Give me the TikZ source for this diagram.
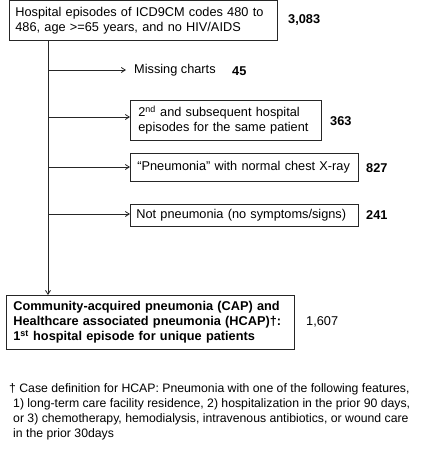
\documentclass[tikz,border=0pt]{standalone}
\usepackage{fontspec}
\setmainfont{Liberation Sans}
\usetikzlibrary{arrows.meta}
\begin{document}
\begin{tikzpicture}[x=1pt,y=-1pt,
  every node/.style={font=\fontsize{12.75}{15}\selectfont, text=black},
  box/.style={draw=black!85, line width=0.8pt, align=left, inner xsep=7pt, inner ysep=0pt, anchor=north west},
  num/.style={font=\fontsize{12.75}{15}\selectfont\bfseries, anchor=west, inner sep=0pt},
  lbl/.style={anchor=west, inner sep=0pt},
  arr/.style={draw=black!85, line width=0.8pt, -{Straight Barb[length=4pt,width=5pt]}}]
\useasboundingbox (0,0) rectangle (427,451);
% top box
\node[box, minimum width=268pt, minimum height=40pt, text width=256pt, inner xsep=6pt] (top) at (9,0)
  {Hospital episodes of ICD9CM codes 480 to\\486, age >=65 years, and no HIV/AIDS};
\node[num] (n1) at (288,20) {3,083};
% missing charts
\node[lbl] (mc) at (134,70) {Missing charts};
\node[num] (n2) at (232,71) {45};
% box 2
\node[box, minimum width=191pt, minimum height=40pt, text width=179pt, inner xsep=6pt] (b2) at (130,100)
  {\hspace*{2pt}2\textsuperscript{nd} and subsequent hospital\\\hspace*{2pt}episodes for the same patient};
\node[num] (n3) at (330,121) {363};
% box 3
\node[box, minimum width=228pt, minimum height=28pt, text width=220pt, inner xsep=4pt] (b3) at (130,153)
  {\hspace*{3pt}“Pneumonia" with normal chest X-ray};
\node[num] (n4) at (366,168) {827};
% box 4
\node[box, minimum width=228pt, minimum height=22pt, text width=220pt, inner xsep=4pt] (b4) at (130,204)
  {\hspace*{2pt}Not pneumonia (no symptoms/signs)};
\node[num] (n5) at (366,215) {241};
% bottom box
\node[box, minimum width=288pt, minimum height=54pt, text width=278pt, inner xsep=5pt, font=\fontsize{12.75}{15}\selectfont\bfseries] (bot) at (6,295)
  {\hspace*{2pt}Community-acquired pneumonia (CAP) and\\\hspace*{2pt}Healthcare associated pneumonia (HCAP)†:\\\hspace*{2pt}1\textsuperscript{st} hospital episode for unique patients};
\node[lbl] (n6) at (306,322) {1,607};
% footnote
\node[anchor=north west, inner sep=0pt, align=left, font=\fontsize{12.25}{15}\selectfont] (fn) at (9,383)
  {† Case definition for HCAP: Pneumonia with one of the following features,\\
  \hspace*{4pt}1) long-term care facility residence, 2) hospitalization in the prior 90 days,\\
  \hspace*{4pt}or 3) chemotherapy, hemodialysis, intravenous antibiotics, or wound care\\
  \hspace*{4pt}in the prior 30days};
% connectors
\coordinate (s) at (48,40);
\coordinate (j1) at (48,70);
\coordinate (j2) at (48,117);
\coordinate (j3) at (48,167);
\coordinate (j4) at (48,214);
\coordinate (e) at (48,295);
\draw[arr] (s) -- (e);
\draw[arr] (j1) -- ([xshift=-8pt]j1 -| mc.west);
\draw[arr] (j2) -- (j2 -| b2.west);
\draw[arr] (j3) -- (j3 -| b3.west);
\draw[arr] (j4) -- (j4 -| b4.west);
\end{tikzpicture}
\end{document}
